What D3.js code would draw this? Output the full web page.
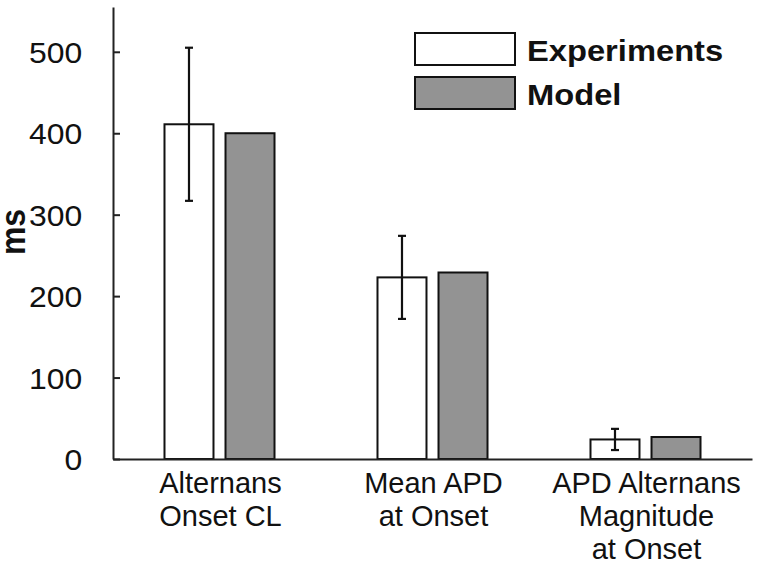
<!DOCTYPE html>
<html>
<head>
<meta charset="utf-8">
<script src="https://cdn.jsdelivr.net/npm/d3@7"></script>
<style>
  body { margin: 0; background: #fff; }
  text { font-family: "Liberation Sans", Arial, Helvetica, sans-serif; }
</style>
</head>
<body>
<div id="graph-container"></div>
<script>
// Data
var categories = ["Alternans\nOnset CL", "Mean APD\nat Onset", "APD Alternans\nMagnitude\nat Onset"];
var series = ["Experiments", "Model"];
var experiments = [411, 223, 24];
var experimentsErr = [94, 51, 13];
var model = [400, 229, 27];
var yTicks = [0, 100, 200, 300, 400, 500];
var colors = { Experiments: "#ffffff", Model: "#939393" };

var width = 760;
var height = 571;
var margin = { top: 7, right: 8, bottom: 112, left: 113 };

var svg = d3.select("#graph-container")
            .append("svg")
            .attr("width", width)
            .attr("height", height);

// Scales
var x0 = d3.scaleBand()
           .domain(categories)
           .range([margin.left, width - margin.right])
           .padding(0);

var x1 = d3.scaleBand()
           .domain(series)
           .range([0, x0.bandwidth()])
           .paddingInner(0.197)
           .paddingOuter(0.844);

var yScale = d3.scaleLinear()
               .domain([0, 555])
               .range([height - margin.bottom, margin.top]);

// Build rows for the grouped bars
var rows = categories.map(function(c, i) {
  return [
    { cat: c, key: "Experiments", value: experiments[i], err: experimentsErr[i] },
    { cat: c, key: "Model", value: model[i], err: null }
  ];
});

var groups = svg.selectAll("g.group")
   .data(rows)
   .enter()
   .append("g")
   .attr("class", "group")
   .attr("transform", function(d) { return "translate(" + x0(d[0].cat) + ",0)"; });

groups.selectAll("rect")
   .data(function(d) { return d; })
   .enter()
   .append("rect")
   .attr("x", function(d) { return x1(d.key); })
   .attr("y", function(d) { return yScale(d.value); })
   .attr("width", x1.bandwidth())
   .attr("height", function(d) { return yScale(0) - yScale(d.value); })
   .attr("fill", function(d) { return colors[d.key]; })
   .attr("stroke", "#111")
   .attr("stroke-width", 2);

// Error bars on experiments
var errs = groups.selectAll("g.err")
   .data(function(d) { return d.filter(function(e) { return e.err != null; }); })
   .enter()
   .append("g")
   .attr("class", "err")
   .attr("stroke", "#111")
   .attr("stroke-width", 2.2);

errs.append("line")
   .attr("x1", function(d) { return x1(d.key) + x1.bandwidth() / 2; })
   .attr("x2", function(d) { return x1(d.key) + x1.bandwidth() / 2; })
   .attr("y1", function(d) { return yScale(d.value + d.err); })
   .attr("y2", function(d) { return yScale(d.value - d.err); });

[1, -1].forEach(function(s) {
  errs.append("line")
     .attr("x1", function(d) { return x1(d.key) + x1.bandwidth() / 2 - 4; })
     .attr("x2", function(d) { return x1(d.key) + x1.bandwidth() / 2 + 4; })
     .attr("y1", function(d) { return yScale(d.value + s * d.err); })
     .attr("y2", function(d) { return yScale(d.value + s * d.err); });
});

// y axis (ticks point inward)
var yAxis = svg.append("g")
   .attr("transform", "translate(" + margin.left + ",0)")
   .call(d3.axisLeft(yScale).tickValues(yTicks).tickSizeInner(-7).tickSizeOuter(0).tickPadding(28));
yAxis.select(".domain").attr("stroke", "#222").attr("stroke-width", 2);
yAxis.selectAll(".tick line").attr("stroke", "#222").attr("stroke-width", 2);
yAxis.selectAll(".tick text")
   .attr("font-size", 29)
   .attr("font-family", "Liberation Sans, Arial, sans-serif")
   .attr("fill", "#111")
   .attr("dy", "0.37em")
   .attr("transform", "scale(1.1,1)");

// x axis line
var xAxis = svg.append("g")
   .attr("transform", "translate(0," + yScale(0) + ")")
   .call(d3.axisBottom(x0).tickSize(0).tickFormat(""));
xAxis.select(".domain").attr("stroke", "#222").attr("stroke-width", 2);

// category labels (multi-line)
var labels = svg.selectAll("text.cat")
   .data(categories)
   .enter()
   .append("text")
   .attr("class", "cat")
   .attr("text-anchor", "middle")
   .attr("font-size", 29)
   .attr("fill", "#111");

labels.selectAll("tspan")
   .data(function(d) { return d.split("\n").map(function(s) { return { text: s, cat: d }; }); })
   .enter()
   .append("tspan")
   .attr("x", function(d) { return x0(d.cat) + x0.bandwidth() / 2 + 1; })
   .attr("y", function(d, i) { return yScale(0) + 34 + i * 33; })
   .text(function(d) { return d.text; });

// y label
svg.append("text")
   .attr("transform", "translate(25,232) scale(1.1,1) rotate(-90)")
   .attr("text-anchor", "middle")
   .attr("font-size", 32)
   .attr("font-weight", "bold")
   .attr("fill", "#111")
   .text("ms");

// Legend
var legend = svg.append("g").attr("transform", "translate(415,33)");
var legendItems = legend.selectAll("g")
   .data(series)
   .enter()
   .append("g")
   .attr("transform", function(d, i) { return "translate(0," + i * 44 + ")"; });

legendItems.append("rect")
   .attr("width", 100)
   .attr("height", 32)
   .attr("fill", function(d) { return colors[d]; })
   .attr("stroke", "#111")
   .attr("stroke-width", 2);

legendItems.append("text")
   .attr("transform", "translate(112,28) scale(1.09,1)")
   .attr("font-size", 30)
   .attr("font-weight", "bold")
   .attr("fill", "#111")
   .text(function(d) { return d; });
</script>
</body>
</html>
